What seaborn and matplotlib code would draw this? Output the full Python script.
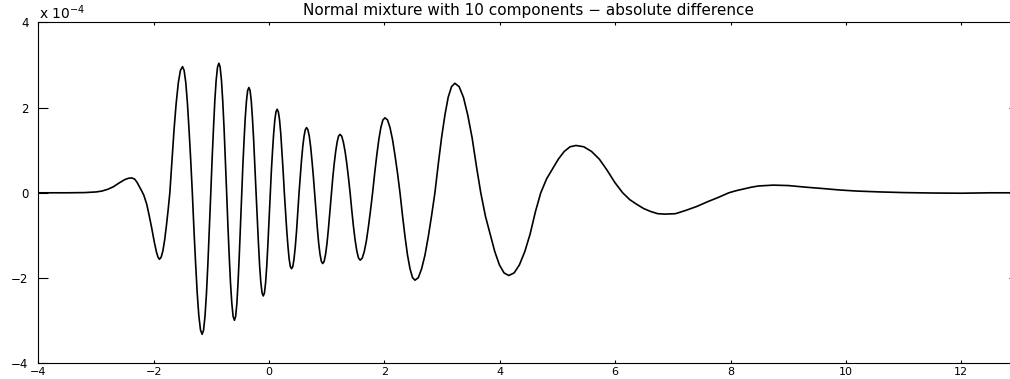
import matplotlib
matplotlib.use("Agg")
import matplotlib.pyplot as plt
import pandas as pd
import seaborn as sns

# curve (y in units of 1e-4)
x_points = [
    -4.0, -3.5, -3.2, -3.0, -2.9, -2.8, -2.7, -2.6, -2.5, -2.44, -2.38,
    -2.33, -2.29, -2.25, -2.21, -2.17, -2.12, -2.08, -2.035, -1.99, -1.95, -1.925, -1.90,
    -1.87, -1.84, -1.81, -1.78, -1.75, -1.72,
    -1.683, -1.647, -1.61, -1.573, -1.537, -1.50,
    -1.472, -1.443, -1.415, -1.387, -1.358, -1.33,
    -1.302, -1.273, -1.245, -1.217, -1.188, -1.16,
    -1.135, -1.11, -1.085, -1.06, -1.035, -1.01,
    -0.987, -0.963, -0.94, -0.917, -0.893, -0.87,
    -0.848, -0.825, -0.803, -0.78, -0.758, -0.735,
    -0.713, -0.69, -0.668, -0.645, -0.623, -0.60,
    -0.579, -0.558, -0.538, -0.517, -0.496, -0.475,
    -0.454, -0.433, -0.413, -0.392, -0.371, -0.35,
    -0.329, -0.308, -0.288, -0.267, -0.246, -0.225,
    -0.204, -0.183, -0.163, -0.142, -0.121, -0.10,
    -0.08, -0.06, -0.04, -0.02, 0.0, 0.02,
    0.04, 0.06, 0.08, 0.10, 0.12, 0.14,
    0.161, 0.182, 0.203, 0.223, 0.244, 0.265,
    0.286, 0.307, 0.328, 0.348, 0.369, 0.39,
    0.412, 0.433, 0.455, 0.477, 0.498, 0.52,
    0.542, 0.563, 0.585, 0.607, 0.628, 0.65,
    0.673, 0.697, 0.72, 0.743, 0.767, 0.79,
    0.813, 0.837, 0.86, 0.883, 0.907, 0.93,
    0.955, 0.98, 1.005, 1.03, 1.055, 1.08,
    1.105, 1.13, 1.155, 1.18, 1.205, 1.23,
    1.259, 1.288, 1.318, 1.347, 1.376, 1.405,
    1.434, 1.463, 1.493, 1.522, 1.551, 1.58,
    1.616, 1.652, 1.688, 1.723, 1.759, 1.795,
    1.831, 1.867, 1.903, 1.938, 1.974, 2.01,
    2.053, 2.097, 2.14, 2.183, 2.227, 2.27,
    2.313, 2.357, 2.40, 2.443, 2.487, 2.53,
    2.588, 2.645, 2.703, 2.76, 2.818, 2.875,
    2.933, 2.99, 3.048, 3.105, 3.163, 3.22,
    3.295, 3.37, 3.445, 3.52, 3.595, 3.67,
    3.751, 3.832, 3.913, 3.993, 4.074, 4.155,
    4.248, 4.34, 4.433, 4.525, 4.618, 4.71,
    4.812, 4.913, 5.015, 5.117, 5.218, 5.32,
    5.455, 5.59, 5.725, 5.86, 5.995, 6.13,
    6.252, 6.373, 6.495, 6.617, 6.738, 6.86,
    7.045, 7.23, 7.415, 7.60, 7.785, 7.97,
    8.098, 8.227, 8.355, 8.483, 8.612, 8.74,
    9.0, 9.32, 9.6, 9.9, 10.2, 10.6, 11.0, 11.5, 12.0, 12.5, 13.0,
]
y_points = [
    0.0, 0.0, 0.005, 0.02, 0.04, 0.08, 0.14, 0.23, 0.31, 0.34, 0.35,
    0.32, 0.25, 0.15, 0.05, -0.06, -0.27, -0.52, -0.82, -1.15, -1.40, -1.51, -1.56,
    -1.51, -1.36, -1.11, -0.78, -0.41, 0.0,
    0.77, 1.48, 2.10, 2.58, 2.87, 2.96,
    2.87, 2.58, 2.10, 1.48, 0.77, 0.0,
    -0.86, -1.66, -2.36, -2.89, -3.22, -3.32,
    -3.22, -2.89, -2.36, -1.66, -0.86, 0.0,
    0.79, 1.52, 2.16, 2.64, 2.95, 3.04,
    2.95, 2.64, 2.16, 1.52, 0.79, 0.0,
    -0.78, -1.50, -2.12, -2.60, -2.90, -2.99,
    -2.90, -2.60, -2.12, -1.50, -0.78, 0.0,
    0.64, 1.24, 1.75, 2.15, 2.40, 2.47,
    2.40, 2.15, 1.75, 1.24, 0.64, 0.0,
    -0.63, -1.21, -1.72, -2.11, -2.35, -2.42,
    -2.35, -2.11, -1.72, -1.21, -0.63, 0.0,
    0.51, 0.98, 1.39, 1.71, 1.90, 1.96,
    1.90, 1.71, 1.39, 0.98, 0.51, 0.0,
    -0.46, -0.89, -1.26, -1.55, -1.73, -1.78,
    -1.73, -1.55, -1.26, -0.89, -0.46, 0.0,
    0.40, 0.77, 1.09, 1.33, 1.48, 1.53,
    1.48, 1.33, 1.09, 0.77, 0.40, 0.0,
    -0.43, -0.83, -1.18, -1.44, -1.61, -1.66,
    -1.61, -1.44, -1.18, -0.83, -0.43, 0.0,
    0.36, 0.69, 0.97, 1.19, 1.33, 1.37,
    1.33, 1.19, 0.97, 0.69, 0.36, 0.0,
    -0.41, -0.79, -1.12, -1.37, -1.53, -1.58,
    -1.53, -1.37, -1.12, -0.79, -0.41, 0.0,
    0.46, 0.88, 1.25, 1.53, 1.71, 1.76,
    1.71, 1.53, 1.25, 0.88, 0.46, 0.0,
    -0.53, -1.03, -1.46, -1.78, -1.99, -2.05,
    -1.99, -1.78, -1.46, -1.03, -0.53, 0.0,
    0.67, 1.29, 1.82, 2.24, 2.49, 2.57,
    2.49, 2.24, 1.82, 1.29, 0.62, 0.0,
    -0.55, -0.97, -1.38, -1.69, -1.88, -1.94,
    -1.88, -1.69, -1.38, -0.97, -0.44, 0.0,
    0.33, 0.56, 0.79, 0.97, 1.08, 1.11,
    1.08, 0.97, 0.79, 0.53, 0.24, 0.0,
    -0.16, -0.27, -0.37, -0.44, -0.49, -0.50,
    -0.49, -0.41, -0.32, -0.21, -0.11, 0.0,
    0.05, 0.09, 0.13, 0.16, 0.17, 0.18,
    0.17, 0.13, 0.10, 0.065, 0.04, 0.02, 0.005, -0.005, -0.01, 0.0, 0.0,
]

x_ticks = [-4, -2, 0, 2, 4, 6, 8, 10, 12]
y_ticks = [-4, -2, 0, 2, 4]
title = "Normal mixture with 10 components \u2212 absolute difference"

sns.set_style("ticks")
plt.rcParams["font.family"] = ["DejaVu Sans"]
plt.rcParams["text.color"] = "black"


def minus(v):
    return str(v).replace("-", "\u2212")


fig = plt.figure(figsize=(10.10, 3.79), dpi=100)
ax = fig.add_axes([38.3 / 1010, 1 - 363.3 / 379, (1019 - 38.3) / 1010, (363.3 - 22.3) / 379])

df = pd.DataFrame({"x": x_points, "y": y_points})
sns.lineplot(data=df, x="x", y="y", color="black", linewidth=1.2,
             estimator=None, sort=False, ax=ax)

ax.set_xlim(-4, 13)
ax.set_ylim(-4, 4)
ax.set_xticks(x_ticks)
ax.set_xticklabels([minus(v) for v in x_ticks])
ax.set_yticks(y_ticks)
ax.set_yticklabels([minus(v) for v in y_ticks])
ax.set_xlabel("")
ax.set_ylabel("")

ax.tick_params(direction="in", top=True, right=True, colors="black", width=0.8)
ax.tick_params(axis="x", length=2.2, pad=3, labelsize=8)
ax.tick_params(axis="y", length=7, pad=7, labelsize=8.5)
for sp in ax.spines.values():
    sp.set_visible(True)
    sp.set_linewidth(0.8)
    sp.set_color("black")

ax.set_title(title, fontsize=11, pad=5, color="black")
fig.text(39 / 1010, 1 - 18.5 / 379, r"x 10$^{-4}$", fontsize=10,
         va="baseline", ha="left", color="black")

fig.savefig("out.png", dpi=100)
